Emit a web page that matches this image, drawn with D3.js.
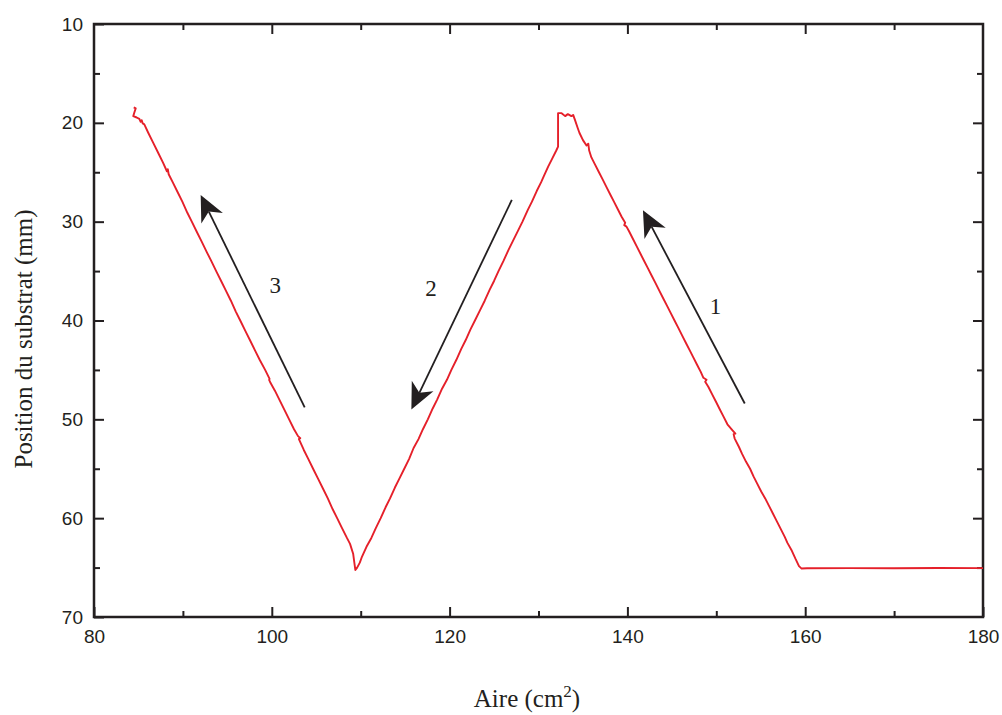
<!DOCTYPE html>
<html>
<head>
<meta charset="utf-8">
<script src="https://cdn.jsdelivr.net/npm/d3@7"></script>
<style>
  html, body { margin: 0; padding: 0; background: #fff; }
  svg { display: block; }
</style>
</head>
<body>
<svg id="chart" width="1002" height="715"></svg>
<script>
// ---------- data ----------
const xTicks = [80, 100, 120, 140, 160, 180];
const xMinorTicks = [90, 110, 130, 150, 170];
const yTicks = [10, 20, 30, 40, 50, 60, 70];
const yMinorTicks = [15, 25, 35, 45, 55, 65];

const areaValues = [
  180.0, 175, 170, 165, 160.2, 159.6,
  159.3, 158.9, 158.5, 158.0, 157.7, 157.2, 156.8, 156.35, 155.9, 155.5, 155.05, 154.6, 154.2, 153.8,
  153.35, 152.9, 152.55, 152.1, 152.05, 151.95, 152.15, 151.8, 151.25, 150.8, 150.4, 149.95, 149.55,
  149.1, 148.75, 148.9, 148.55, 148.25, 147.85, 147.4, 147.0, 146.6, 146.15, 145.7, 145.3, 144.85,
  144.45, 144.05, 143.6, 143.15, 142.75, 142.3, 141.9, 141.5, 141.05, 140.6, 140.2, 139.9, 139.65,
  139.75, 139.35, 138.95, 138.5, 138.1, 137.65, 137.2, 136.8, 136.35, 135.95, 135.7, 135.6, 135.4,
  135.0, 134.6, 134.4, 134.1, 133.9, 133.7, 133.3, 133.0, 132.6, 132.2,
  132.2,
  132.0, 131.5, 131.1, 130.6, 130.3, 129.8, 129.25, 128.8, 128.2, 127.7, 127.1, 126.6, 126.05, 125.5,
  125.0, 124.5, 123.95, 123.4, 122.85, 122.35, 121.8, 121.3, 120.75, 120.2, 119.7, 119.15, 118.6,
  118.1, 117.55, 117.0, 116.5, 115.95, 115.45, 114.9, 114.35, 113.85, 113.3, 112.8, 112.25, 111.7,
  111.2, 110.65, 110.1, 109.9, 109.6, 109.4,
  109.3, 109.15, 108.8, 108.45, 107.9, 107.35, 106.85, 106.3, 105.75, 105.2, 104.7, 104.1, 103.6,
  103.05, 103.2, 102.95, 102.5, 101.95, 101.45, 100.85, 100.35, 99.85, 99.7, 99.75, 99.25, 98.65,
  98.15, 97.55, 97.05, 96.45, 95.95, 95.4, 94.85, 94.3, 93.8, 93.2, 92.7, 92.1, 91.6, 91.0, 90.5,
  89.95, 89.4, 88.85, 88.4, 88.3, 88.2, 87.75, 87.2, 86.65, 86.1, 85.66, 85.48, 85.37, 85.25, 85.1,
  84.8, 84.42, 84.53, 84.69, 84.47
];
const positionValues = [
  65.05, 65.04, 65.06, 65.05, 65.07, 65.1,
  64.85, 64.1, 63.3, 62.5, 61.9, 61.0, 60.3, 59.5, 58.7, 58.0, 57.3, 56.5, 55.8, 55.0,
  54.3, 53.5, 52.8, 52.0, 51.9, 51.5, 51.45, 51.1, 50.5, 49.7, 49.0, 48.2, 47.5,
  46.7, 46.2, 46.0, 45.8, 45.2, 44.5, 43.7, 43.0, 42.3, 41.5, 40.7, 40.0, 39.2,
  38.5, 37.8, 37.0, 36.2, 35.5, 34.7, 34.0, 33.3, 32.5, 31.7, 31.0, 30.5, 30.35,
  30.1, 29.5, 28.8, 28.0, 27.3, 26.5, 25.7, 25.0, 24.2, 23.5, 22.8, 22.1, 22.3,
  21.75, 21.0, 20.5, 19.7, 19.2, 19.32, 19.12, 19.32, 19.02, 19.02,
  22.4,
  22.8, 23.7, 24.4, 25.4, 26.0, 26.9, 28.0, 28.8, 30.0, 30.9, 32.0, 32.9, 34.0, 35.0,
  36.0, 36.9, 38.0, 39.0, 40.0, 40.9, 42.0, 42.9, 44.0, 45.0, 46.0, 46.9, 48.0,
  48.9, 50.0, 51.0, 52.0, 52.9, 54.0, 55.0, 56.0, 56.9, 58.0, 58.9, 60.0, 61.0,
  62.0, 62.9, 64.0, 64.5, 65.0, 65.25,
  64.6, 63.6, 62.6, 62.0, 61.0, 60.0, 59.1, 58.0, 57.0, 56.0, 55.1, 54.0, 53.1,
  52.0, 51.9, 51.7, 51.0, 50.0, 49.1, 48.0, 47.1, 46.3, 46.0, 45.9, 45.0, 44.0,
  43.1, 42.0, 41.1, 40.0, 39.1, 38.0, 37.0, 36.0, 35.1, 34.0, 33.1, 32.0, 31.1, 30.0, 29.1,
  28.0, 27.0, 26.0, 25.2, 24.7, 24.9, 24.0, 23.0, 22.0, 21.0, 20.16, 20.06, 19.73, 19.90, 19.6,
  19.46, 19.32, 18.99, 18.54, 18.44
];

// annotation arrows (data coordinates): tail -> tip
const arrowLabels = ["1", "2", "3"];
const arrowTails = [[153.2, 48.4], [127.0, 27.8], [103.7, 48.8]];
const arrowTips = [[141.75, 28.85], [115.7, 49.0], [92.0, 27.3]];
const labelPositions = [[149.9, 38.6], [117.9, 36.8], [100.4, 36.5]];

const xTitle = "Aire (cm";
const xTitleSup = "2";
const yTitle = "Position du substrat (mm)";

// ---------- layout ----------
const margin = { left: 94, right: 19, top: 24, bottom: 98 };
const W = 1002, H = 715;
const iw = W - margin.left - margin.right;
const ih = H - margin.top - margin.bottom;
const ink = "#231f20";
const red = "#e5202a";

const svg = d3.select("#chart");
const g = svg.append("g").attr("transform", `translate(${margin.left},${margin.top})`);

const x = d3.scaleLinear().domain([80, 180]).range([0, iw]);
const y = d3.scaleLinear().domain([10, 70]).range([0, ih]);

function styleAxis(sel) {
  sel.select(".domain").remove();
  sel.selectAll(".tick line").attr("stroke", ink).attr("stroke-width", 2);
  sel.selectAll(".tick text")
    .attr("fill", ink)
    .style("font-family", "'Liberation Sans', Arial, Helvetica, sans-serif")
    .style("font-size", "19px");
}

// major axes with labels
g.append("g").attr("transform", `translate(0,${ih})`)
  .call(d3.axisBottom(x).tickValues(xTicks).tickSizeInner(-10).tickSizeOuter(0).tickPadding(13).tickFormat(d3.format("d")))
  .call(styleAxis);
g.append("g")
  .call(d3.axisLeft(y).tickValues(yTicks).tickSizeInner(-10).tickSizeOuter(0).tickPadding(11).tickFormat(d3.format("d")))
  .call(styleAxis);
// mirrored ticks
g.append("g")
  .call(d3.axisTop(x).tickValues(xTicks.slice(1, -1)).tickSizeInner(-10).tickSizeOuter(0).tickFormat(""))
  .call(styleAxis);
g.append("g").attr("transform", `translate(${iw},0)`)
  .call(d3.axisRight(y).tickValues(yTicks.slice(1, -1)).tickSizeInner(-10).tickSizeOuter(0).tickFormat(""))
  .call(styleAxis);
// minor ticks
g.append("g").attr("transform", `translate(0,${ih})`)
  .call(d3.axisBottom(x).tickValues(xMinorTicks).tickSizeInner(-6).tickSizeOuter(0).tickFormat(""))
  .call(styleAxis);
g.append("g")
  .call(d3.axisTop(x).tickValues(xMinorTicks).tickSizeInner(-6).tickSizeOuter(0).tickFormat(""))
  .call(styleAxis);
g.append("g")
  .call(d3.axisLeft(y).tickValues(yMinorTicks).tickSizeInner(-6).tickSizeOuter(0).tickFormat(""))
  .call(styleAxis);
g.append("g").attr("transform", `translate(${iw},0)`)
  .call(d3.axisRight(y).tickValues(yMinorTicks).tickSizeInner(-6).tickSizeOuter(0).tickFormat(""))
  .call(styleAxis);

// frame
g.append("rect").attr("x", 0).attr("y", 0).attr("width", iw).attr("height", ih)
  .attr("fill", "none").attr("stroke", ink).attr("stroke-width", 2.5);

// data line
const pts = areaValues.map((a, i) => [a, positionValues[i]]);
g.append("path")
  .datum(pts)
  .attr("fill", "none")
  .attr("stroke", red)
  .attr("stroke-width", 1.9)
  .attr("stroke-linejoin", "round")
  .attr("d", d3.line().x(d => x(d[0])).y(d => y(d[1])));

// arrows
const headLen = 26, headHalf = 12, notch = 18.5;
arrowTails.forEach((t, i) => {
  const tx = x(t[0]), ty = y(t[1]);
  const px = x(arrowTips[i][0]), py = y(arrowTips[i][1]);
  const dx = tx - px, dy = ty - py, L = Math.hypot(dx, dy);
  const ux = dx / L, uy = dy / L, nx = -uy, ny = ux;
  g.append("line")
    .attr("x1", tx).attr("y1", ty)
    .attr("x2", px + ux * notch).attr("y2", py + uy * notch)
    .attr("stroke", ink).attr("stroke-width", 1.8);
  const head = [
    [px, py],
    [px + ux * headLen + nx * headHalf, py + uy * headLen + ny * headHalf],
    [px + ux * notch, py + uy * notch],
    [px + ux * headLen - nx * headHalf, py + uy * headLen - ny * headHalf]
  ];
  g.append("path").attr("d", "M" + head.map(p => p.join(",")).join("L") + "Z").attr("fill", ink);
  g.append("text")
    .attr("x", x(labelPositions[i][0])).attr("y", y(labelPositions[i][1]))
    .attr("text-anchor", "middle").attr("dominant-baseline", "central")
    .attr("fill", ink)
    .style("font-family", "'Liberation Serif', 'Times New Roman', serif")
    .style("font-size", "23px")
    .text(arrowLabels[i]);
});

// axis titles
const xt = svg.append("text")
  .attr("x", 527).attr("y", 707)
  .attr("text-anchor", "middle")
  .attr("fill", ink)
  .style("font-family", "'Liberation Serif', 'Times New Roman', serif")
  .style("font-size", "25px");
xt.append("tspan").text(xTitle);
xt.append("tspan").attr("dy", -10).style("font-size", "17px").text(xTitleSup);
xt.append("tspan").attr("dy", 10).text(")");

svg.append("text")
  .attr("transform", `translate(32,339) rotate(-90)`)
  .attr("text-anchor", "middle")
  .attr("fill", ink)
  .style("font-family", "'Liberation Serif', 'Times New Roman', serif")
  .style("font-size", "25px")
  .text(yTitle);
</script>
</body>
</html>
